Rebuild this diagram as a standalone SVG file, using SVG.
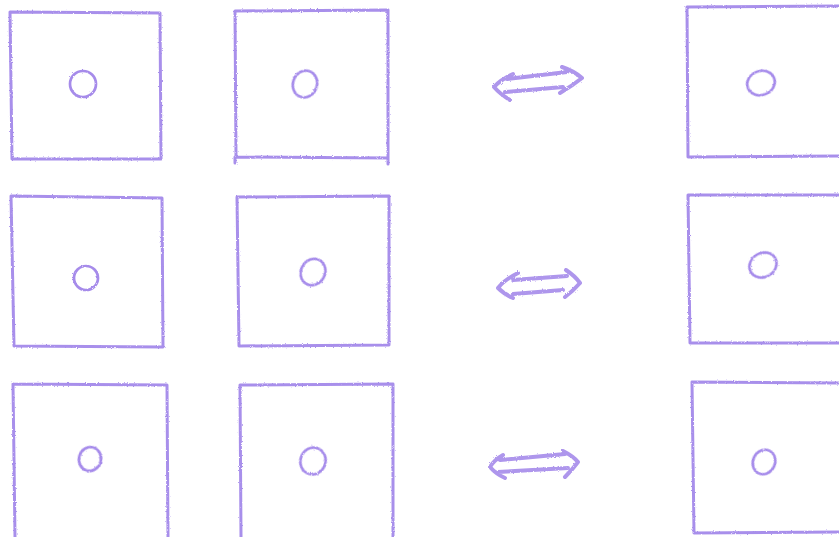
<svg xmlns="http://www.w3.org/2000/svg" width="839" height="537" viewBox="0 0 839 537">
<defs>
<filter id="rough" x="-5%" y="-5%" width="110%" height="110%">
<feTurbulence type="fractalNoise" baseFrequency="0.8" numOctaves="2" seed="3" result="n"/>
<feDisplacementMap in="SourceGraphic" in2="n" scale="2.4"/>
</filter>
</defs>
<style>
.s{fill:none;stroke:#9a7ce8;stroke-width:3;stroke-linecap:round;stroke-linejoin:round;opacity:0.85;filter:url(#rough)}
.c{fill:none;stroke:#9a7ce8;stroke-width:2.7;opacity:0.88;filter:url(#rough)}
.a{fill:none;stroke:#9a7ce8;stroke-width:4;stroke-linecap:round;stroke-linejoin:round;opacity:0.8;filter:url(#rough)}
</style>
<rect width="839" height="537" fill="#ffffff"/>
<g id="row1-box1"><path class="s" d="M10,12 L160,13 L161,159 L12,159 Z"/><ellipse class="c" cx="83" cy="84" rx="13" ry="13"/></g>
<g id="row1-box2"><path class="s" d="M235,11 L388,10 L388,164 M388,158 L236,157 L235,11 M235,157 L235,163"/><ellipse class="c" cx="305" cy="84" rx="12" ry="13.5" transform="rotate(20 305 84)"/></g>
<g id="row1-box3"><path class="s" d="M839,6 L687,7 L688,157 L839,156"/><ellipse class="c" cx="761" cy="83" rx="14" ry="12" transform="rotate(-20 761 83)"/></g>
<g id="row2-box1"><path class="s" d="M11,196 L162,198 L163,347 L14,346 Z"/><ellipse class="c" cx="86" cy="278" rx="12" ry="12"/></g>
<g id="row2-box2"><path class="s" d="M237,197 L389,196 L389,345 L239,346 Z"/><ellipse class="c" cx="313" cy="272" rx="12" ry="13.5" transform="rotate(30 313 272)"/></g>
<g id="row2-box3"><path class="s" d="M839,195 L688,195 L690,343 L839,343"/><ellipse class="c" cx="763" cy="265" rx="14" ry="12" transform="rotate(-30 763 265)"/></g>
<g id="row3-box1"><path class="s" d="M13,384 L167,385 L168,537 M13,384 L15,537"/><ellipse class="c" cx="90" cy="459" rx="11" ry="12" transform="rotate(15 90 459)"/></g>
<g id="row3-box2"><path class="s" d="M240,385 L393,384 L393,537 M240,385 L241,537"/><ellipse class="c" cx="313" cy="461" rx="12.5" ry="13.5" transform="rotate(20 313 461)"/></g>
<g id="row3-box3"><path class="s" d="M839,383 L692,382 L694,533 L839,532"/><ellipse class="c" cx="764" cy="462" rx="11" ry="12.5" transform="rotate(25 764 462)"/></g>
<g id="connectors">
<path class="a" d="M513,74 Q500,80 494,87 Q500,94 510,100 M507,79 L567,72 M505,92 L563,87 M562,67 Q574,71 582,78 Q572,86 560,93"/>
<path class="a" d="M518,273 Q504,280 498,288 Q504,294 513,298 M513,280 L567,276 M513,294 L563,290 M566,270 Q575,276 580,283 Q573,291 565,297"/>
<path class="a" d="M503,455 Q494,460 490,467 Q496,474 505,478 M500,460 L565,454 M498,472 L568,468 M563,451 Q573,456 578,462 Q572,470 565,477"/>
</g>
</svg>
